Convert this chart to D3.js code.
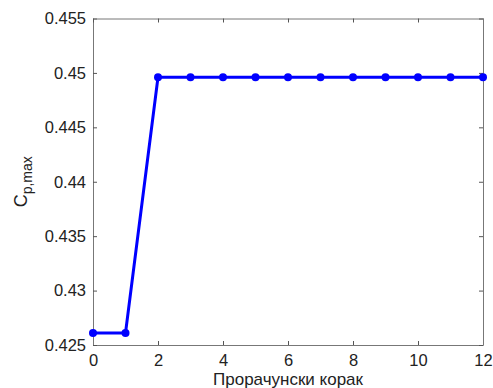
<!DOCTYPE html>
<html>
<head>
<meta charset="utf-8">
<script src="https://cdn.jsdelivr.net/npm/d3@7"></script>
<style>
  body { margin: 0; background: #fff; }
  svg { display: block; font-family: "Liberation Sans", Arial, sans-serif; }
</style>
</head>
<body>
<svg id="chart" width="493" height="388"></svg>
<script>
// Iteration steps and the maximum power coefficient at each step
const steps = [0, 1, 2, 3, 4, 5, 6, 7, 8, 9, 10, 11, 12];
const cpMax = [0.4261, 0.4261, 0.4496, 0.4496, 0.4496, 0.4496, 0.4496, 0.4496, 0.4496, 0.4496, 0.4496, 0.4496, 0.4496];
const xTicks = [0, 2, 4, 6, 8, 10, 12];
const yTicks = [0.425, 0.43, 0.435, 0.44, 0.445, 0.45, 0.455];
const yTickLabels = ["0.425", "0.43", "0.435", "0.44", "0.445", "0.45", "0.455"];
const xLabel = "Прорачунски корак";

const svg = d3.select("#chart");
const m = { left: 93, right: 483, top: 18.5, bottom: 345 };

const x = d3.scaleLinear().domain([0, 12]).range([m.left, m.right]);
const y = d3.scaleLinear().domain([0.425, 0.455]).range([m.bottom, m.top]);

const tickLen = 4;

// Bottom axis with inward ticks
const xAxis = svg.append("g").attr("transform", `translate(0,${m.bottom})`)
  .call(d3.axisBottom(x).tickValues(xTicks).tickSizeInner(-tickLen).tickSizeOuter(0).tickPadding(9));
// Left axis with inward ticks
const yAxis = svg.append("g").attr("transform", `translate(${m.left},0)`)
  .call(d3.axisLeft(y).tickValues(yTicks).tickFormat((d, i) => yTickLabels[i])
    .tickSizeInner(-tickLen).tickSizeOuter(0).tickPadding(7));
// Top and right mirrored ticks (box)
const xTop = svg.append("g").attr("transform", `translate(0,${m.top})`)
  .call(d3.axisTop(x).tickValues(xTicks).tickSizeInner(-tickLen).tickSizeOuter(0).tickFormat(""));
const yRight = svg.append("g").attr("transform", `translate(${m.right},0)`)
  .call(d3.axisRight(y).tickValues(yTicks).tickSizeInner(-tickLen).tickSizeOuter(0).tickFormat(""));

[xAxis, yAxis, xTop, yRight].forEach(g => {
  g.select(".domain").attr("stroke", "#777").attr("stroke-width", 1);
  g.selectAll(".tick line").attr("stroke", "#555");
  g.selectAll("text").attr("fill", "#222").style("font-size", "16.5px")
    .style("font-family", "\"Liberation Sans\", Arial, sans-serif");
});
xAxis.selectAll("text").attr("dy", "0.75em");

// Data line and markers
const line = d3.line().x((d, i) => x(steps[i])).y(d => y(d));
svg.append("path").datum(cpMax)
  .attr("d", line).attr("fill", "none")
  .attr("stroke", "#0000ff").attr("stroke-width", 3).attr("stroke-linejoin", "round");
svg.selectAll("circle.pt").data(cpMax).join("circle")
  .attr("class", "pt")
  .attr("cx", (d, i) => x(steps[i])).attr("cy", d => y(d))
  .attr("r", 4).attr("fill", "#0000ff");

// Axis titles
svg.append("text")
  .attr("x", (m.left + m.right) / 2).attr("y", 385)
  .attr("text-anchor", "middle").attr("fill", "#222")
  .style("font-size", "17px").text(xLabel);

const yl = svg.append("text")
  .attr("transform", `translate(27,${(m.top + m.bottom) / 2}) rotate(-90)`)
  .attr("text-anchor", "middle").attr("fill", "#222").style("font-size", "18px");
yl.append("tspan").text("C");
yl.append("tspan").attr("dy", 5).style("font-size", "14px").text("p,max");
</script>
</body>
</html>
